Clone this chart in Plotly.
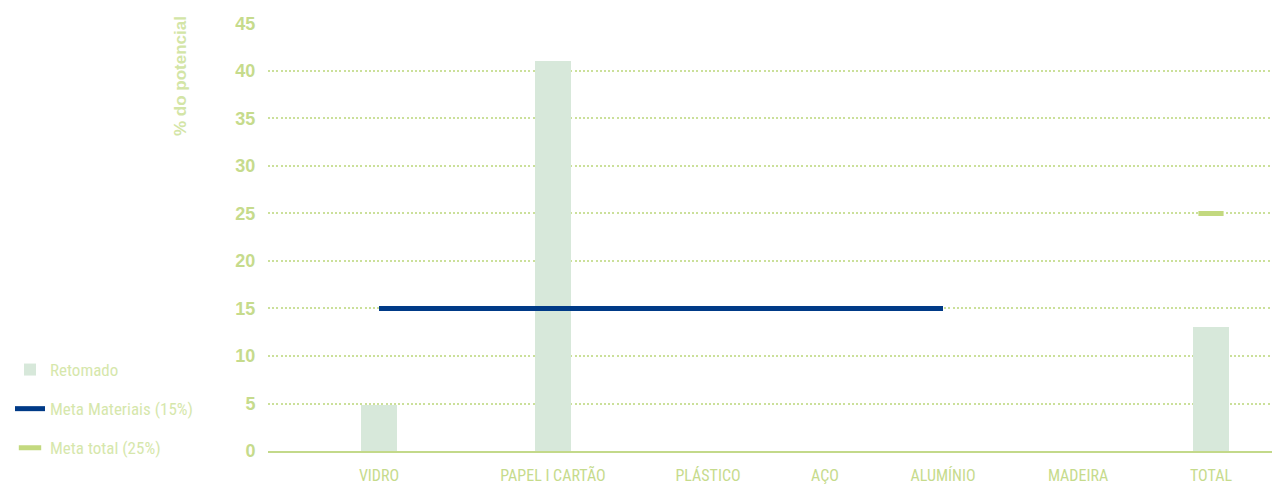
import plotly.graph_objects as go

categories = ["VIDRO", "PAPEL I CARTÃO", "PLÁSTICO", "AÇO", "ALUMÍNIO", "MADEIRA", "TOTAL"]
retomado = [4.8, 41.0, 0, 0, 0, 0, 13.1]
meta_materiais = [15, 15, 15, 15, 15, None, None]
meta_total = [None, None, None, None, None, None, 25]
y_ticks = [0, 5, 10, 15, 20, 25, 30, 35, 40, 45]

# horizontal placement of the category slots on the axis (layout)
x_slots = [111, 285, 440, 557, 675, 810, 943]

W, H = 1272, 485
ML, MR, MT, MB = 268, 0, 23, 34
pw = W - ML - MR
ph = H - MT - MB

grid_col = "#cbe09a"
txt_col = "#c6db8c"
leg_col = "#d6e7ac"
cond = "Liberation Sans Narrow, Arial Narrow, Roboto Condensed, sans-serif"

fig = go.Figure()
fig.add_trace(go.Bar(
    x=x_slots, y=retomado, width=36, name="Retomado",
    marker=dict(color="#d7e8da", line=dict(width=0)),
    legendgroup="a", hoverinfo="skip",
))
fig.add_trace(go.Scatter(
    x=x_slots, y=meta_materiais, mode="lines", name="Meta Materiais (15%)",
    line=dict(color="#003a87", width=5), legendgroup="b", hoverinfo="skip",
))
fig.add_trace(go.Scatter(
    x=x_slots, y=meta_total, mode="markers", name="Meta total (25%)",
    marker=dict(symbol="line-ew", size=18, color="#c3d97f",
                line=dict(color="#c3d97f", width=5)),
    legendgroup="c", hoverinfo="skip",
))

fig.update_layout(
    width=W, height=H,
    margin=dict(l=ML, r=MR, t=MT, b=MB, autoexpand=False),
    paper_bgcolor="white", plot_bgcolor="white",
    showlegend=True,
    legend=dict(
        x=(10 - ML) / pw, xanchor="left",
        y=(451 - 466) / ph, yanchor="bottom",
        font=dict(family=cond, size=17, color=leg_col),
        tracegroupgap=14, itemwidth=30,
        bgcolor="rgba(0,0,0,0)",
    ),
    xaxis=dict(
        range=[0, pw],
        tickmode="array", tickvals=x_slots, ticktext=categories,
        tickfont=dict(family=cond, size=16, color=txt_col),
        ticks="outside", ticklen=9, tickcolor="rgba(0,0,0,0)",
        showgrid=False, zeroline=False,
        showline=True, linecolor="#c3d98a", linewidth=2,
        fixedrange=True,
    ),
    yaxis=dict(
        range=[0, 45.05],
        tickmode="array", tickvals=y_ticks,
        tickfont=dict(family="Liberation Sans, Arial, sans-serif", size=18,
                      color=txt_col, weight="bold"),
        ticks="outside", ticklen=8, tickcolor="rgba(0,0,0,0)",
        showgrid=True, gridcolor=grid_col, griddash="2px,2.2px", gridwidth=2,
        zeroline=False, showline=False, fixedrange=True,
    ),
    annotations=[dict(
        text="% do potencial", textangle=-90,
        xref="paper", yref="paper",
        x=(180 - ML) / pw, xanchor="center",
        y=(451 - 14) / ph, yanchor="top",
        showarrow=False,
        font=dict(family="Liberation Sans, Arial, sans-serif", size=17,
                  color="#d3e5a6", weight="bold"),
    )],
    bargap=0,
)

fig.write_html("out.html", config={"displayModeBar": False},
               post_script="document.body.style.margin='0';")
